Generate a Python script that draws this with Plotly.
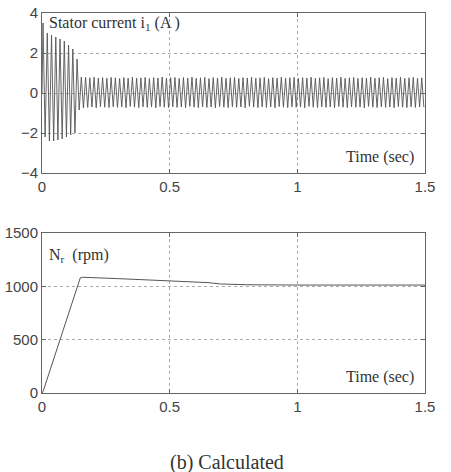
import plotly.graph_objects as go

# ---------------- data ----------------
SUPPLY_HZ = 60.0          # oscillation frequency of the stator current
POS_PHASE = 0.004         # time of first positive peak (s)
NEG_PHASE = 0.0123        # time of first negative peak (s)

# positive half-cycle peaks of stator current i1 (A), one per cycle (90)
pos_peaks = [
    3.50, 3.00, 2.90, 2.80, 2.70, 2.60, 2.40, 2.20, 1.70,
    0.80, 0.78, 0.76, 0.79, 0.75, 0.77, 0.74, 0.78, 0.76,
    0.73, 0.77, 0.75, 0.79, 0.74, 0.76, 0.78, 0.72, 0.77,
    0.75, 0.80, 0.74, 0.76, 0.78, 0.73, 0.77, 0.75, 0.79,
    0.74, 0.76, 0.78, 0.72, 0.77, 0.75, 0.79, 0.74, 0.76,
    0.78, 0.73, 0.77, 0.75, 0.79, 0.74, 0.76, 0.78, 0.72,
    0.77, 0.75, 0.79, 0.74, 0.76, 0.78, 0.73, 0.77, 0.75,
    0.79, 0.74, 0.76, 0.78, 0.72, 0.77, 0.75, 0.79, 0.74,
    0.76, 0.78, 0.73, 0.77, 0.75, 0.79, 0.74, 0.76, 0.78,
    0.72, 0.77, 0.75, 0.79, 0.74, 0.76, 0.78, 0.73, 0.76,
]
# negative half-cycle peaks of stator current i1 (A) (90)
neg_peaks = [
    -2.20, -2.40, -2.40, -2.35, -2.30, -2.20, -2.10, -2.00,
    -0.85, -0.75, -0.72, -0.70, -0.74, -0.68, -0.71, -0.73, -0.69,
    -0.72, -0.70, -0.74, -0.67, -0.71, -0.73, -0.69, -0.72, -0.70,
    -0.74, -0.68, -0.71, -0.73, -0.69, -0.72, -0.70, -0.74, -0.67,
    -0.71, -0.73, -0.69, -0.72, -0.70, -0.74, -0.68, -0.71, -0.73,
    -0.69, -0.72, -0.70, -0.74, -0.67, -0.71, -0.73, -0.69, -0.72,
    -0.70, -0.74, -0.68, -0.71, -0.73, -0.69, -0.72, -0.70, -0.74,
    -0.67, -0.71, -0.73, -0.69, -0.72, -0.70, -0.74, -0.68, -0.71,
    -0.73, -0.69, -0.72, -0.70, -0.74, -0.67, -0.71, -0.73, -0.69,
    -0.72, -0.70, -0.74, -0.68, -0.71, -0.73, -0.69, -0.72, -0.70,
    -0.71,
]

# rotor speed Nr (rpm)
speed_t = [0.0, 0.005, 0.15, 0.16, 0.30, 0.45, 0.50, 0.52, 0.65, 0.70, 0.80, 1.00, 1.20, 1.50]
speed_n = [0, 20, 1080, 1085, 1072, 1058, 1052, 1045, 1035, 1022, 1015, 1012, 1012, 1012]

x_ticks = [0, 0.5, 1, 1.5]
x_tick_text = ["0", "0.5", "1", "1.5"]
cur_ticks = [-4, -2, 0, 2, 4]
spd_ticks = [0, 500, 1000, 1500]

# build current waveform from peaks
cur_t = [0.0]
cur_v = [0.0]
events = [(POS_PHASE + k / SUPPLY_HZ, v) for k, v in enumerate(pos_peaks)]
events += [(NEG_PHASE + k / SUPPLY_HZ, v) for k, v in enumerate(neg_peaks)]
events.sort()
for t, v in events:
    if t <= 1.5:
        cur_t.append(t)
        cur_v.append(v)

# ---------------- figure ----------------
W, H = 451, 472
fig = go.Figure()

line_col = "#555555"
fig.add_trace(go.Scatter(x=cur_t, y=cur_v, mode="lines",
                         line=dict(color=line_col, width=0.9), xaxis="x", yaxis="y",
                         showlegend=False, hoverinfo="skip"))
fig.add_trace(go.Scatter(x=speed_t, y=speed_n, mode="lines",
                         line=dict(color=line_col, width=1), xaxis="x2", yaxis="y2",
                         showlegend=False, hoverinfo="skip"))

xd = [42 / W, 425 / W]
top_dom = [1 - 173 / H, 1 - 13 / H]
bot_dom = [1 - 393 / H, 1 - 233 / H]

tick_font = dict(family="Liberation Sans, Arial", size=15, color="#444")
common = dict(showline=True, linecolor="#666", linewidth=1, mirror="allticks",
              ticks="inside", ticklen=4, tickcolor="#666",
              showgrid=True, gridcolor="#aaaaaa", griddash="dot", gridwidth=1,
              zeroline=False, tickfont=tick_font, automargin=False)

fig.update_layout(
    width=W, height=H, margin=dict(l=0, r=0, t=0, b=0),
    paper_bgcolor="white", plot_bgcolor="white",
    xaxis=dict(domain=xd, range=[0, 1.5], tickvals=x_ticks, ticktext=x_tick_text,
               anchor="y", **common),
    yaxis=dict(domain=top_dom, range=[-4, 4], tickvals=cur_ticks, anchor="x", **common),
    xaxis2=dict(domain=xd, range=[0, 1.5], tickvals=x_ticks, ticktext=x_tick_text,
                anchor="y2", **common),
    yaxis2=dict(domain=bot_dom, range=[0, 1500], tickvals=spd_ticks, anchor="x2", **common),
)

ann_font = dict(family="Liberation Serif, Times New Roman", size=16, color="#333")
fig.add_annotation(text="Stator current i<sub>1</sub> (A )", xref="paper", yref="paper",
                   x=47 / W, y=1 - 24 / H, xanchor="left", yanchor="middle",
                   showarrow=False, font=ann_font)
fig.add_annotation(text="Time (sec)", xref="paper", yref="paper",
                   x=416 / W, y=1 - 157 / H, xanchor="right", yanchor="middle",
                   showarrow=False, font=ann_font)
fig.add_annotation(text="N<sub>r</sub>  (rpm)", xref="paper", yref="paper",
                   x=47 / W, y=1 - 255 / H, xanchor="left", yanchor="middle",
                   showarrow=False, font=ann_font)
fig.add_annotation(text="Time (sec)", xref="paper", yref="paper",
                   x=416 / W, y=1 - 377 / H, xanchor="right", yanchor="middle",
                   showarrow=False, font=ann_font)
fig.add_annotation(text="(b) Calculated", xref="paper", yref="paper",
                   x=227 / W, y=1 - 462 / H, xanchor="center", yanchor="middle",
                   showarrow=False,
                   font=dict(family="Liberation Serif, Times New Roman", size=20, color="#333"))

fig.write_html("out.html")
